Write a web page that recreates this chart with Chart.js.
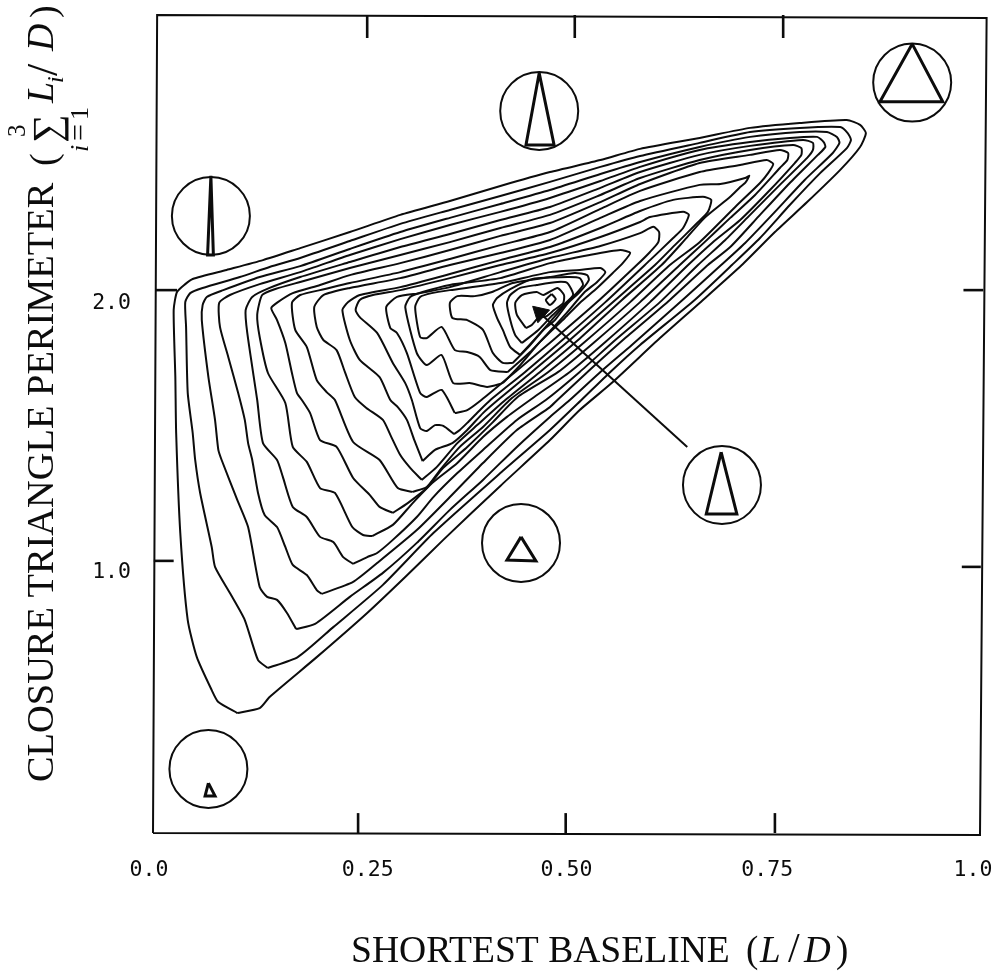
<!DOCTYPE html>
<html>
<head>
<meta charset="utf-8">
<title>Closure triangle contours</title>
<script src="https://cdn.jsdelivr.net/npm/chart.js@4/dist/chart.umd.min.js"></script>
<style>
  html, body { margin: 0; padding: 0; background: #fff; }
  canvas { display: block; }
</style>
</head>
<body>
<canvas id="chart" width="999" height="974"></canvas>
<script>
// tick labels
const xTickValues = [0, 0.25, 0.5, 0.75, 1];
const xTickLabels = ['0.0', '0.25', '0.50', '0.75', '1.0'];
const yTickValues = [2, 1];
const yTickLabels = ['2.0', '1.0'];

// contours, outermost first: [shortest baseline, perimeter]
const contour01 = [[.102,.440],[.079,.480],[.071,.524],[.053,.645],[.042,.781],[.033,1.100],[.028,1.467],[.027,1.672],[.025,1.918],[.029,1.984],[.039,2.013],[.048,2.032],[.089,2.065],[.133,2.101],[.178,2.145],[.238,2.204],[.299,2.267],[.359,2.318],[.420,2.373],[.480,2.424],[.541,2.468],[.589,2.509],[.661,2.549],[.722,2.586],[.782,2.604],[.839,2.615],[.855,2.597],[.862,2.567],[.855,2.516],[.831,2.432],[.791,2.314],[.752,2.204],[.712,2.083],[.661,1.944],[.613,1.815],[.556,1.654],[.516,1.551],[.480,1.441],[.420,1.273],[.351,1.075],[.305,.939],[.259,.807],[.198,.645],[.141,.499],[.129,.458]];
const contour02 = [[.139,.605],[.127,.634],[.111,.781],[.093,.880],[.075,.976],[.071,1.049],[.057,1.247],[.051,1.368],[.048,1.467],[.042,1.614],[.040,1.856],[.039,1.947],[.045,1.980],[.060,1.999],[.105,2.039],[.141,2.076],[.178,2.109],[.238,2.171],[.299,2.234],[.359,2.285],[.420,2.336],[.480,2.388],[.541,2.443],[.589,2.483],[.661,2.531],[.722,2.571],[.782,2.586],[.831,2.589],[.840,2.567],[.844,2.542],[.839,2.512],[.807,2.421],[.770,2.303],[.734,2.182],[.700,2.083],[.655,1.955],[.589,1.790],[.553,1.691],[.518,1.588],[.480,1.478],[.420,1.320],[.339,1.100],[.278,.910],[.218,.755],[.175,.645]];
const contour03 = [[.173,.748],[.162,.807],[.150,.855],[.138,.866],[.129,.902],[.115,1.122],[.102,1.221],[.083,1.368],[.079,1.405],[.075,1.515],[.067,1.672],[.059,1.881],[.060,1.936],[.065,1.966],[.085,1.991],[.129,2.039],[.178,2.079],[.238,2.142],[.299,2.204],[.359,2.256],[.420,2.307],[.480,2.358],[.541,2.417],[.589,2.461],[.661,2.516],[.722,2.553],[.782,2.571],[.815,2.571],[.827,2.553],[.830,2.531],[.822,2.494],[.788,2.395],[.752,2.278],[.716,2.164],[.687,2.083],[.643,1.962],[.579,1.790],[.541,1.691],[.504,1.588],[.480,1.526],[.440,1.416],[.399,1.295],[.359,1.185],[.319,1.064],[.278,.954],[.238,.866],[.196,.767]];
const contour04 = [[.204,.877],[.198,.891],[.186,.946],[.169,.983],[.160,1.049],[.150,1.122],[.135,1.166],[.127,1.247],[.120,1.368],[.115,1.430],[.111,1.515],[.103,1.614],[.091,1.746],[.081,1.856],[.080,1.944],[.093,1.973],[.129,2.013],[.178,2.057],[.238,2.120],[.299,2.178],[.359,2.230],[.420,2.278],[.480,2.329],[.541,2.391],[.589,2.443],[.661,2.505],[.722,2.534],[.770,2.549],[.803,2.553],[.811,2.534],[.813,2.516],[.804,2.487],[.770,2.384],[.734,2.267],[.698,2.149],[.671,2.083],[.625,1.955],[.571,1.815],[.528,1.698],[.489,1.588],[.480,1.562],[.440,1.478],[.399,1.357],[.359,1.232],[.319,1.111],[.271,.990],[.242,.921]];
const contour05 = [[.242,.987],[.230,1.012],[.218,1.067],[.202,1.086],[.186,1.159],[.169,1.196],[.157,1.306],[.150,1.368],[.133,1.430],[.126,1.588],[.114,1.834],[.112,1.918],[.120,1.966],[.141,1.999],[.178,2.039],[.238,2.094],[.299,2.149],[.359,2.197],[.420,2.248],[.480,2.296],[.541,2.366],[.589,2.424],[.661,2.487],[.722,2.520],[.786,2.542],[.798,2.531],[.798,2.505],[.791,2.476],[.758,2.377],[.722,2.267],[.692,2.175],[.659,2.083],[.613,1.947],[.559,1.808],[.516,1.691],[.475,1.588],[.440,1.515],[.399,1.405],[.368,1.320],[.339,1.232],[.319,1.159],[.290,1.075],[.271,1.027],[.259,1.012]];
const contour06 = [[.265,1.089],[.254,1.093],[.241,1.122],[.220,1.247],[.202,1.265],[.186,1.361],[.169,1.416],[.160,1.577],[.139,1.687],[.129,1.819],[.126,1.900],[.132,1.973],[.148,1.995],[.178,2.021],[.238,2.072],[.299,2.120],[.359,2.167],[.420,2.219],[.480,2.267],[.541,2.340],[.589,2.402],[.661,2.468],[.722,2.505],[.774,2.523],[.784,2.512],[.784,2.487],[.776,2.457],[.746,2.358],[.710,2.248],[.676,2.164],[.647,2.083],[.601,1.947],[.547,1.801],[.504,1.691],[.461,1.599],[.428,1.526],[.399,1.452],[.368,1.357],[.339,1.287],[.314,1.210],[.290,1.130]];
const contour07 = [[.290,1.174],[.274,1.196],[.262,1.240],[.242,1.302],[.222,1.416],[.202,1.441],[.190,1.540],[.180,1.588],[.174,1.614],[.168,1.687],[.160,1.797],[.150,1.881],[.143,1.925],[.151,1.947],[.169,1.980],[.202,2.010],[.238,2.046],[.299,2.090],[.359,2.138],[.420,2.190],[.480,2.237],[.541,2.314],[.589,2.380],[.661,2.457],[.722,2.487],[.758,2.505],[.768,2.494],[.767,2.468],[.758,2.439],[.728,2.340],[.698,2.256],[.667,2.167],[.637,2.083],[.589,1.947],[.534,1.801],[.490,1.691],[.441,1.599],[.411,1.507],[.380,1.416],[.351,1.339],[.331,1.265],[.308,1.210]];
const contour08 = [[.314,1.251],[.296,1.265],[.274,1.368],[.242,1.434],[.220,1.588],[.210,1.617],[.198,1.661],[.186,1.782],[.172,1.845],[.168,1.944],[.178,1.973],[.208,1.995],[.238,2.017],[.299,2.057],[.359,2.105],[.420,2.156],[.480,2.204],[.541,2.289],[.589,2.355],[.661,2.424],[.710,2.450],[.742,2.468],[.750,2.454],[.744,2.421],[.734,2.384],[.704,2.296],[.661,2.167],[.625,2.083],[.577,1.947],[.522,1.801],[.478,1.691],[.434,1.595],[.399,1.489],[.371,1.416],[.347,1.331],[.331,1.269]];
const contour09 = [[.325,1.295],[.311,1.339],[.299,1.386],[.287,1.460],[.278,1.515],[.258,1.559],[.244,1.599],[.232,1.691],[.222,1.771],[.206,1.808],[.198,1.856],[.195,1.929],[.206,1.973],[.238,1.999],[.299,2.035],[.359,2.083],[.420,2.127],[.480,2.175],[.541,2.256],[.589,2.318],[.661,2.377],[.686,2.380],[.716,2.402],[.721,2.410],[.716,2.384],[.710,2.369],[.698,2.333],[.667,2.256],[.643,2.175],[.615,2.083],[.567,1.955],[.514,1.808],[.468,1.691],[.426,1.588],[.392,1.496],[.368,1.430],[.343,1.342]];
const contour10 = [[.326,1.364],[.316,1.441],[.307,1.515],[.296,1.562],[.287,1.588],[.274,1.672],[.250,1.735],[.238,1.808],[.229,1.918],[.236,1.947],[.250,1.973],[.299,2.002],[.359,2.050],[.420,2.101],[.480,2.149],[.541,2.219],[.589,2.281],[.629,2.322],[.665,2.333],[.675,2.322],[.671,2.278],[.658,2.237],[.631,2.156],[.607,2.083],[.559,1.955],[.504,1.808],[.458,1.691],[.417,1.588],[.399,1.540],[.380,1.478],[.362,1.430],[.341,1.405]];
const contour11 = [[.364,1.463],[.351,1.493],[.341,1.496],[.331,1.474],[.323,1.485],[.313,1.588],[.305,1.650],[.290,1.724],[.271,1.834],[.250,1.892],[.245,1.918],[.250,1.955],[.266,1.973],[.299,1.991],[.359,2.035],[.420,2.083],[.480,2.127],[.541,2.186],[.589,2.241],[.601,2.259],[.641,2.278],[.648,2.267],[.641,2.219],[.629,2.182],[.601,2.101],[.547,1.947],[.495,1.808],[.450,1.691],[.408,1.588],[.393,1.544],[.380,1.504],[.371,1.478]];
const contour12 = [[.365,1.540],[.349,1.625],[.331,1.599],[.323,1.614],[.307,1.760],[.295,1.834],[.287,1.852],[.282,1.929],[.295,1.966],[.323,1.980],[.359,2.002],[.420,2.057],[.480,2.109],[.541,2.153],[.589,2.200],[.605,2.223],[.612,2.204],[.611,2.167],[.601,2.131],[.585,2.083],[.537,1.947],[.484,1.808],[.438,1.691],[.397,1.588],[.380,1.551]];
const contour13 = [[.423,1.650],[.404,1.636],[.383,1.650],[.363,1.650],[.349,1.753],[.331,1.716],[.319,1.760],[.305,1.929],[.311,1.966],[.326,1.984],[.359,2.010],[.420,2.035],[.480,2.090],[.528,2.120],[.565,2.138],[.577,2.127],[.568,2.090],[.556,2.054],[.537,1.999],[.516,1.944],[.498,1.889],[.468,1.801],[.444,1.716]];
const contour14 = [[.429,1.691],[.408,1.698],[.395,1.746],[.380,1.764],[.365,1.771],[.349,1.856],[.331,1.815],[.323,1.819],[.317,1.929],[.323,1.966],[.337,1.980],[.359,1.991],[.420,2.017],[.480,2.057],[.516,2.065],[.541,2.072],[.547,2.057],[.537,2.021],[.522,1.984],[.498,1.900],[.478,1.834],[.456,1.764]];
const contour15 = [[.435,1.724],[.423,1.724],[.411,1.760],[.399,1.845],[.380,1.881],[.362,1.889],[.359,1.944],[.368,1.969],[.389,1.969],[.410,1.984],[.435,2.017],[.480,2.039],[.510,2.054],[.525,2.046],[.527,2.028],[.516,1.984],[.502,1.944],[.486,1.881],[.472,1.845],[.453,1.779]];
const contour16 = [[.444,1.753],[.432,1.782],[.423,1.845],[.416,1.889],[.411,1.936],[.416,1.962],[.432,1.995],[.459,2.032],[.501,2.039],[.516,2.035],[.520,2.010],[.510,1.973],[.496,1.929],[.482,1.881],[.466,1.826]];
const contour17 = [[.446,1.797],[.438,1.826],[.432,1.881],[.428,1.944],[.432,1.973],[.444,1.999],[.464,2.010],[.489,2.021],[.501,2.017],[.508,1.973],[.495,1.933],[.482,1.896],[.466,1.845]];
const contour18 = [[.451,1.852],[.440,1.900],[.438,1.944],[.446,1.973],[.464,1.984],[.472,1.973],[.489,1.999],[.497,1.973],[.496,1.944],[.485,1.918],[.476,1.896],[.466,1.889],[.458,1.863]];
const contour19 = [[.482,1.977],[.487,1.958],[.480,1.936],[.475,1.955]];
const contours = [contour01, contour02, contour03, contour04, contour05, contour06, contour07, contour08, contour09, contour10, contour11, contour12, contour13, contour14, contour15, contour16, contour17, contour18, contour19];

// inset circles and the closure triangle drawn in each
const insetX = [.918, .467, .070, .445, .067, .688];
const insetY = [2.752, 2.648, 2.263, 1.064, .235, 1.276];
const triangleA = [[.918,2.894],[.879,2.682],[.955,2.682]];
const triangleB = [[.467,2.787],[.451,2.523],[.485,2.523]];
const triangleC = [[.070,2.410],[.066,2.120],[.073,2.120]];
const triangleD = [[.445,1.086],[.428,1.001],[.463,.998]];
const triangleE = [[.067,.183],[.063,.136],[.075,.136]];
const triangleF = [[.687,1.397],[.669,1.170],[.706,1.170]];
const triangles = [triangleA, triangleB, triangleC, triangleD, triangleE, triangleF];

// arrow from the lower inset to the peak
const arrowShaft = [[.646,1.416],[.469,1.903]];
const arrowHeadAt = [[.468,1.907]];

// the scanned frame is a little out of square
const frameLine = [[0,0],[.005,3],[1.008,2.989],[1,-.007],[0,0]];
const tickMarks = [
  [[.248,0],[.248,.073]], [[.499,0],[.499,.073]], [[.752,0],[.752,.073]],
  [[.259,3],[.259,2.916]], [[.510,3],[.510,2.916]], [[.762,3],[.762,2.916]],
  [[.003,1.991],[.029,1.991]], [[.001,.998],[.025,.998]],
  [[.980,1.991],[1.004,1.991]], [[.978,.976],[1.001,.976]]
];

const INK = '#0c0c0c';
const toPoints = arr => arr.map(([x, y]) => ({ x, y }));
const closed = arr => toPoints(arr.concat([arr[0]]));
const lineSet = (data, width, extra = {}) => ({
  data, borderColor: INK, borderWidth: width, pointRadius: 0, tension: 0, fill: false, clip: false, ...extra
});

const datasets = [
  lineSet(toPoints(frameLine), 2),
  ...tickMarks.map(t => lineSet(toPoints(t), 2.6)),
  ...contours.map(c => lineSet(closed(c), 2, { tension: 0.2 })),
  lineSet(toPoints(arrowShaft), 2),
  {
    data: toPoints(arrowHeadAt), showLine: false, clip: false,
    pointStyle: 'triangle', pointRadius: 10, pointRotation: -47.5,
    pointBackgroundColor: INK, pointBorderColor: INK, pointBorderWidth: 1
  },
  ...triangles.map(t => lineSet(closed(t), 3)),
  {
    data: insetX.map((x, i) => ({ x, y: insetY[i] })),
    showLine: false, pointRadius: 39, pointBorderWidth: 2, pointBorderColor: INK,
    pointBackgroundColor: 'rgba(0,0,0,0)', clip: false
  }
];

// the labels in the picture sit a little off their ticks
const xLabelNudge = [-4, 8, 0, -6, -7];
const yLabelNudge = [16, 12];
const nudgeLabels = {
  id: 'nudgeLabels',
  beforeDraw(chart) {
    if (chart.$nudged) return;
    chart.$nudged = true;
    chart.scales.x.getLabelItems().forEach((it, i) => { it.options.translation[0] += xLabelNudge[i]; });
    chart.scales.y.getLabelItems().forEach((it, i) => { it.options.translation[1] += yLabelNudge[i]; });
  }
};

const SERIF = '"Liberation Serif", serif';
function flat(ctx, txt, x, y, font) {
  ctx.font = font;
  ctx.fillText(txt, x, y);
}
function up(ctx, txt, base, along, font) {
  ctx.save();
  ctx.translate(base, along);
  ctx.rotate(-Math.PI / 2);
  ctx.font = font;
  ctx.fillText(txt, 0, 0);
  ctx.restore();
}
const axisTitles = {
  id: 'axisTitles',
  afterDraw(chart) {
    const ctx = chart.ctx;
    ctx.save();
    ctx.fillStyle = INK;
    ctx.textAlign = 'left';
    ctx.textBaseline = 'alphabetic';
    flat(ctx, 'SHORTEST BASELINE', 351, 962, `37.6px ${SERIF}`);
    flat(ctx, '(', 746, 962, `37px ${SERIF}`);
    flat(ctx, 'L', 760, 962, `italic 37px ${SERIF}`);
    flat(ctx, '/', 788, 962, `42px ${SERIF}`);
    flat(ctx, 'D', 804, 962, `italic 37px ${SERIF}`);
    flat(ctx, ')', 836, 962, `37px ${SERIF}`);

    up(ctx, 'CLOSURE TRIANGLE PERIMETER', 53, 782, `38.4px ${SERIF}`);
    up(ctx, '(', 56, 166, `38px ${SERIF}`);
    up(ctx, '∑', 60, 143, `40px ${SERIF}`);
    up(ctx, '3', 25, 137, `25px ${SERIF}`);
    up(ctx, 'i', 88, 152, `italic 26px ${SERIF}`);
    up(ctx, '=', 88, 141, `30px ${SERIF}`);
    up(ctx, '1', 88, 120, `26px ${SERIF}`);
    up(ctx, 'L', 53, 103, `italic 38px ${SERIF}`);
    up(ctx, 'i', 63, 83, `italic 24px ${SERIF}`);
    up(ctx, '/', 57, 76, `44px ${SERIF}`);
    up(ctx, 'D', 53, 51, `italic 38px ${SERIF}`);
    up(ctx, ')', 56, 18, `38px ${SERIF}`);
    ctx.restore();
  }
};

// keep the plot box fixed, whatever room the outer tick labels ask for
const fixAxisBox = (s, size) => {
  if (s.isHorizontal()) s.height = size; else s.width = size;
  s.paddingLeft = s.paddingRight = s.paddingTop = s.paddingBottom = 0;
};
// the big inset circles would otherwise make the layout shrink the plot by their radius
Chart.registry.getController('line').prototype.getMaxOverflow = () => 0;

const tickFont = { family: '"DejaVu Sans Mono", monospace', size: 21.5 };
new Chart(document.getElementById('chart'), {
  type: 'line',
  data: { datasets },
  options: {
    responsive: false,
    animation: false,
    layout: { padding: { top: 15, right: 19, left: 0, bottom: 0 } },
    plugins: { legend: { display: false }, tooltip: { enabled: false } },
    scales: {
      x: {
        type: 'linear', min: 0, max: 1,
        grid: { display: false }, border: { display: false },
        afterBuildTicks: s => { s.ticks = xTickValues.map(value => ({ value })); },
        afterFit: s => fixAxisBox(s, 141),
        ticks: { color: INK, font: tickFont, padding: 17, maxRotation: 0, autoSkip: false, callback: (v, i) => xTickLabels[i] }
      },
      y: {
        type: 'linear', min: 0, max: 3,
        grid: { display: false }, border: { display: false },
        afterBuildTicks: s => { s.ticks = yTickValues.map(value => ({ value })); },
        afterFit: s => fixAxisBox(s, 153),
        ticks: { color: INK, font: tickFont, padding: 14, autoSkip: false, callback: (v, i) => yTickLabels[i] }
      }
    }
  },
  plugins: [nudgeLabels, axisTitles]
});
</script>
</body>
</html>
